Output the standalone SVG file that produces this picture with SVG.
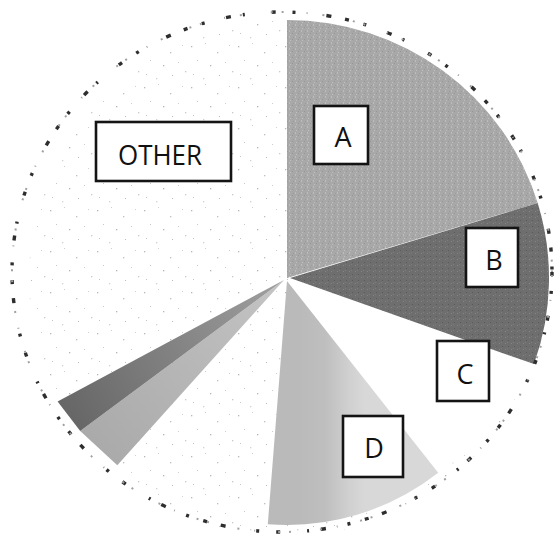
<svg xmlns="http://www.w3.org/2000/svg" width="556" height="535" viewBox="0 0 556 535">
  <style>
    .box { fill: #ffffff; stroke: #141414; stroke-width: 2.6; }
    .lbl { font-family: "Open Sans", "Liberation Sans", sans-serif; font-size: 27px; fill: #111111; text-anchor: middle; }
  </style>
  <defs>
    <pattern id="stip" width="47" height="41" patternUnits="userSpaceOnUse">
      <rect width="47" height="41" fill="#ffffff"/>
      <rect x="3" y="5" width="1.3" height="1.3" fill="#b8b8b8"/>
      <rect x="17" y="2" width="1" height="1" fill="#cfcfcf"/>
      <rect x="29" y="11" width="1.3" height="1.3" fill="#bfbfbf"/>
      <rect x="41" y="4" width="1" height="1" fill="#d0d0d0"/>
      <rect x="9" y="19" width="1" height="1" fill="#c8c8c8"/>
      <rect x="22" y="24" width="1.3" height="1.3" fill="#b5b5b5"/>
      <rect x="37" y="21" width="1" height="1" fill="#cccccc"/>
      <rect x="5" y="33" width="1" height="1" fill="#c4c4c4"/>
      <rect x="15" y="37" width="1.3" height="1.3" fill="#d2d2d2"/>
      <rect x="31" y="34" width="1" height="1" fill="#bcbcbc"/>
      <rect x="44" y="30" width="1.3" height="1.3" fill="#c9c9c9"/>
    </pattern>
    <pattern id="texA" width="6" height="6" patternUnits="userSpaceOnUse">
      <rect width="6" height="6" fill="#a8a8a8"/>
      <rect x="1" y="0" width="1" height="2" fill="#bcbcbc"/>
      <rect x="4" y="3" width="1" height="1" fill="#959595"/>
      <rect x="2" y="4" width="1" height="1" fill="#c0c0c0"/>
      <rect x="5" y="1" width="1" height="1" fill="#9a9a9a"/>
    </pattern>
    <pattern id="texB" width="6" height="6" patternUnits="userSpaceOnUse">
      <rect width="6" height="6" fill="#6e6e6e"/>
      <rect x="1" y="1" width="1" height="1" fill="#858585"/>
      <rect x="4" y="4" width="1" height="1" fill="#5a5a5a"/>
      <rect x="3" y="0" width="1" height="1" fill="#7d7d7d"/>
    </pattern>
    <linearGradient id="gradD" gradientUnits="userSpaceOnUse" x1="300" y1="0" x2="365" y2="0">
      <stop offset="0" stop-color="#bababa"/>
      <stop offset="0.4" stop-color="#bfbfbf"/>
      <stop offset="0.75" stop-color="#d0d0d0"/>
      <stop offset="1" stop-color="#d8d8d8"/>
    </linearGradient>
    <linearGradient id="gradE" gradientUnits="userSpaceOnUse" x1="283" y1="278" x2="90" y2="440">
      <stop offset="0" stop-color="#c4c4c4"/>
      <stop offset="1" stop-color="#aaaaaa"/>
    </linearGradient>
    <linearGradient id="gradF" gradientUnits="userSpaceOnUse" x1="283" y1="278" x2="60" y2="405">
      <stop offset="0" stop-color="#a0a0a0"/>
      <stop offset="1" stop-color="#666666"/>
    </linearGradient>
  </defs>
  <rect width="556" height="535" fill="#ffffff"/>

  <g id="pie">
    <g id="slice-other">
      <ellipse cx="287" cy="278" rx="258" ry="258" fill="url(#stip)"/>
    </g>
    <g id="slice-c">
      <path d="M287,278 L534,364.1 A262,258 0 0 1 438.2,472.8 Z" fill="#ffffff"/>
    </g>
    <g id="slice-a">
      <path d="M287,278 L287,20 A262,258 0 0 1 537.7,203 Z" fill="url(#texA)"/>
    </g>
    <g id="slice-b">
      <path d="M290,278 L537.7,203 A262,258 0 0 1 534,364.1 Z" fill="url(#texB)"/>
    </g>
    <g id="slice-d">
      <path d="M287,281 L438.2,472.8 A245,245 0 0 1 267.8,524.2 Z" fill="url(#gradD)"/>
    </g>
    <g id="slice-e">
      <path d="M284,280 L117.3,465.3 L80.2,430.9 Z" fill="url(#gradE)"/>
    </g>
    <g id="slice-f">
      <path d="M284,280 L80.2,430.9 L57.6,401.4 Z" fill="url(#gradF)"/>
    </g>
  </g>

  <g id="outline">
    <ellipse cx="282" cy="272" rx="270" ry="260" fill="none" stroke="#2e2e2e" stroke-width="3.4" stroke-dasharray="4 15 3 22 5 12 2 27 4 17 3 31 5 14"/>
    <ellipse cx="282" cy="272" rx="270" ry="260" fill="none" stroke="#a0a0a0" stroke-width="2" stroke-dasharray="2 9 2 23 1 15 2 29" stroke-dashoffset="8"/>
  </g>

  <g id="label-other">
    <rect class="box" x="96" y="122" width="135" height="59"/>
    <text class="lbl" x="160" y="165" textLength="84" lengthAdjust="spacingAndGlyphs">OTHER</text>
  </g>
  <g id="label-a">
    <rect class="box" x="314" y="106" width="54" height="58"/>
    <text class="lbl" x="343" y="147">A</text>
  </g>
  <g id="label-b">
    <rect class="box" x="466" y="228" width="52" height="59"/>
    <text class="lbl" x="494" y="270">B</text>
  </g>
  <g id="label-c">
    <rect class="box" x="437" y="341" width="52" height="60"/>
    <text class="lbl" x="465" y="384">C</text>
  </g>
  <g id="label-d">
    <rect class="box" x="343" y="416" width="60" height="61"/>
    <text class="lbl" x="374" y="458">D</text>
  </g>
</svg>
